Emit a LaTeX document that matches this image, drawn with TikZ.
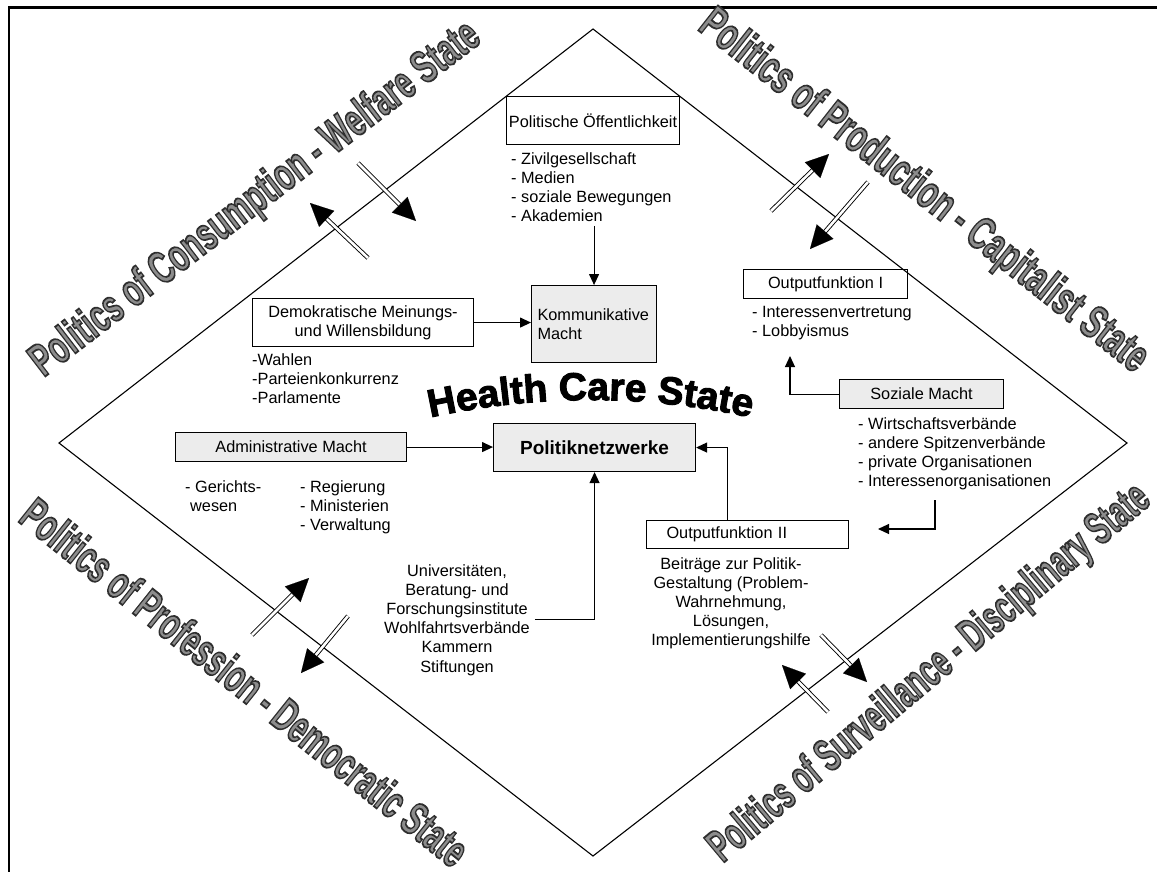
\documentclass[tikz,border=0pt]{standalone}
\usepackage{graphicx}
\usepackage{fontspec}
\setmainfont{Liberation Sans}
\newfontfamily\heavyfont{Liberation Sans}[BoldFeatures={FakeBold=2.5}]
\newfontfamily\wafont{Liberation Sans}[BoldFeatures={FakeBold=4}]
\usetikzlibrary{arrows.meta, positioning, calc, decorations.text}

\definecolor{boxgray}{RGB}{236,236,236}
\definecolor{wagray}{RGB}{140,140,140}

% grey lettering with a dark outline for the four corner titles
\newcommand\wordart[2]{\scalebox{#1}[1]{\special{pdf:code 0.18 0.18 0.18 RG}#2}}

\tikzset{
  box/.style={draw, line width=1.1pt, inner sep=0pt, anchor=north west},
  graybox/.style={box, fill=boxgray},
  txt/.style={inner sep=0pt, anchor=north west, align=left},
  conn/.style={-{Triangle[length=11pt,width=10pt]}, line width=1.1pt},
  dblshaft/.style={double, double distance=2.6pt, line width=0.9pt, shorten >=20pt},
  dblhead/.style={-{Triangle[length=23pt,width=22pt]}, line width=0.1pt},
  wa/.style={inner sep=0pt, text=wagray, font=\wafont\bfseries\fontsize{46}{46}\selectfont},
}

\begin{document}
\begin{tikzpicture}[x=1pt, y=-1pt, font=\fontsize{16.3}{19.2}\selectfont]
  \useasboundingbox (0,0) rectangle (1157,871);

  % frame and diamond
  \draw[line width=2.5pt] (9,880) -- (9,7.5) -- (1170,7.5);
  \coordinate (dTop) at (593,29);
  \coordinate (dRight) at (1127,443);
  \coordinate (dBottom) at (593,856);
  \coordinate (dLeft) at (59,443);
  \draw[line width=1.1pt] (dTop) -- (dRight) -- (dBottom) -- (dLeft) -- cycle;

  % corner titles
  \node[wa, rotate=37.45] (tlLabel) at (256,200) {\wordart{0.643}{Politics of Consumption - Welfare State}};
  \node[wa, rotate=-38.2] (trLabel) at (923,192) {\wordart{0.657}{Politics of Production - Capitalist State}};
  \node[wa, rotate=-38.66] (blLabel) at (245,682) {\wordart{0.629}{Politics of Profession - Democratic State}};
  \node[wa, rotate=40] (brLabel) at (930,674) {\wordart{0.603}{Politics of Surveillance - Disciplinary State}};

  % boxes and lists
  \node[box, minimum width=173pt, minimum height=48pt] (pol) at (506,96) {Politische Öffentlichkeit};
  \node[txt] (polList) at (511,152) {- Zivilgesellschaft\\- Medien\\- soziale Bewegungen\\- Akademien};
  \node[graybox, minimum width=125pt, minimum height=77pt, text width=113pt, align=left] (kom) at (531,285) {Kommunikative\\Macht};
  \node[box, minimum width=221pt, minimum height=48pt, align=center] (dem) at (252,298) {Demokratische Meinungs-\\und Willensbildung};
  \node[txt] (demList) at (252,353) {-Wahlen\\-Parteienkonkurrenz\\-Parlamente};
  \node[graybox, minimum width=231pt, minimum height=29pt] (adm) at (175,432) {Administrative Macht};
  \node[graybox, minimum width=202pt, minimum height=48pt, font=\bfseries\fontsize{19}{22}\selectfont] (pn) at (493,423) {Politiknetzwerke};
  \node[txt] (admListA) at (185,480) {- Gerichts-\\\hspace*{5pt}wesen};
  \node[txt] (admListB) at (300,480) {- Regierung\\- Ministerien\\- Verwaltung};
  \node[txt, align=center, anchor=north] (univ) at (457,564) {Universitäten,\\Beratung- und\\Forschungsinstitute\\Wohlfahrtsverbände\\Kammern\\Stiftungen};
  \node[box, minimum width=164pt, minimum height=29pt] (out1) at (743,269) {Outputfunktion I};
  \node[txt] (out1List) at (752,306) {- Interessenvertretung\\- Lobbyismus};
  \node[graybox, minimum width=164pt, minimum height=29pt] (soz) at (839,379) {Soziale Macht};
  \node[txt] (sozList) at (858,417) {- Wirtschaftsverbände\\- andere Spitzenverbände\\- private Organisationen\\- Interessenorganisationen};
  \node[box, minimum width=202pt, minimum height=28pt, text width=162pt, align=left] (out2) at (646,520) {Outputfunktion II};
  \node[txt, align=center, anchor=north] (beit) at (731,557) {Beiträge zur Politik-\\Gestaltung (Problem-\\Wahrnehmung,\\Lösungen,\\Implementierungshilfe};

  % arched title
  \path[decorate, decoration={text along path, text align=center,
      text={|\heavyfont\bfseries\fontsize{39}{39}\selectfont|Health Care State}}]
    (428,418) .. controls (536,394) and (645,394) .. (753,418);

  % connectors
  \coordinate (out1Tip) at (790,356);
  \coordinate (sozFrom) at (935,500);
  \coordinate (sozTo) at (878,529);
  \draw[conn] ($(kom.north |- polList.south)+(0,4)$) -- (kom.north);
  \draw[conn] (dem.east) -- (dem.east -| kom.west);
  \draw[conn] (adm.east) -- (adm.east -| pn.west);
  \draw[conn] ($(univ.east)+(5,0)$) -| (pn.south);
  \draw[conn] ($(out2.north)+(-20,0)$) |- (pn.east);
  \draw[conn] (soz.west) -| (out1Tip);
  \draw[conn] (sozFrom) |- (sozTo);

  % double arrows across the diamond
  \coordinate (tlOut-t) at (368,258); \coordinate (tlOut-h) at (310,203);
  \coordinate (tlIn-t) at (358,163);  \coordinate (tlIn-h) at (416,221);
  \coordinate (trOut-t) at (771,211); \coordinate (trOut-h) at (829,154);
  \coordinate (trIn-t) at (868,182);  \coordinate (trIn-h) at (810,249);
  \coordinate (blIn-t) at (252,635);  \coordinate (blIn-h) at (309,578);
  \coordinate (blOut-t) at (348,616); \coordinate (blOut-h) at (301,673);
  \coordinate (brOut-t) at (821,635); \coordinate (brOut-h) at (867,682);
  \coordinate (brIn-t) at (828,712);  \coordinate (brIn-h) at (782,665);
  \foreach \n in {tlOut,tlIn,trOut,trIn,blIn,blOut,brOut,brIn} {
    \draw[dblshaft] (\n-t) -- (\n-h);
    \draw[dblhead] ($(\n-h)!23pt!(\n-t)$) -- (\n-h);
  }
\end{tikzpicture}
\end{document}
